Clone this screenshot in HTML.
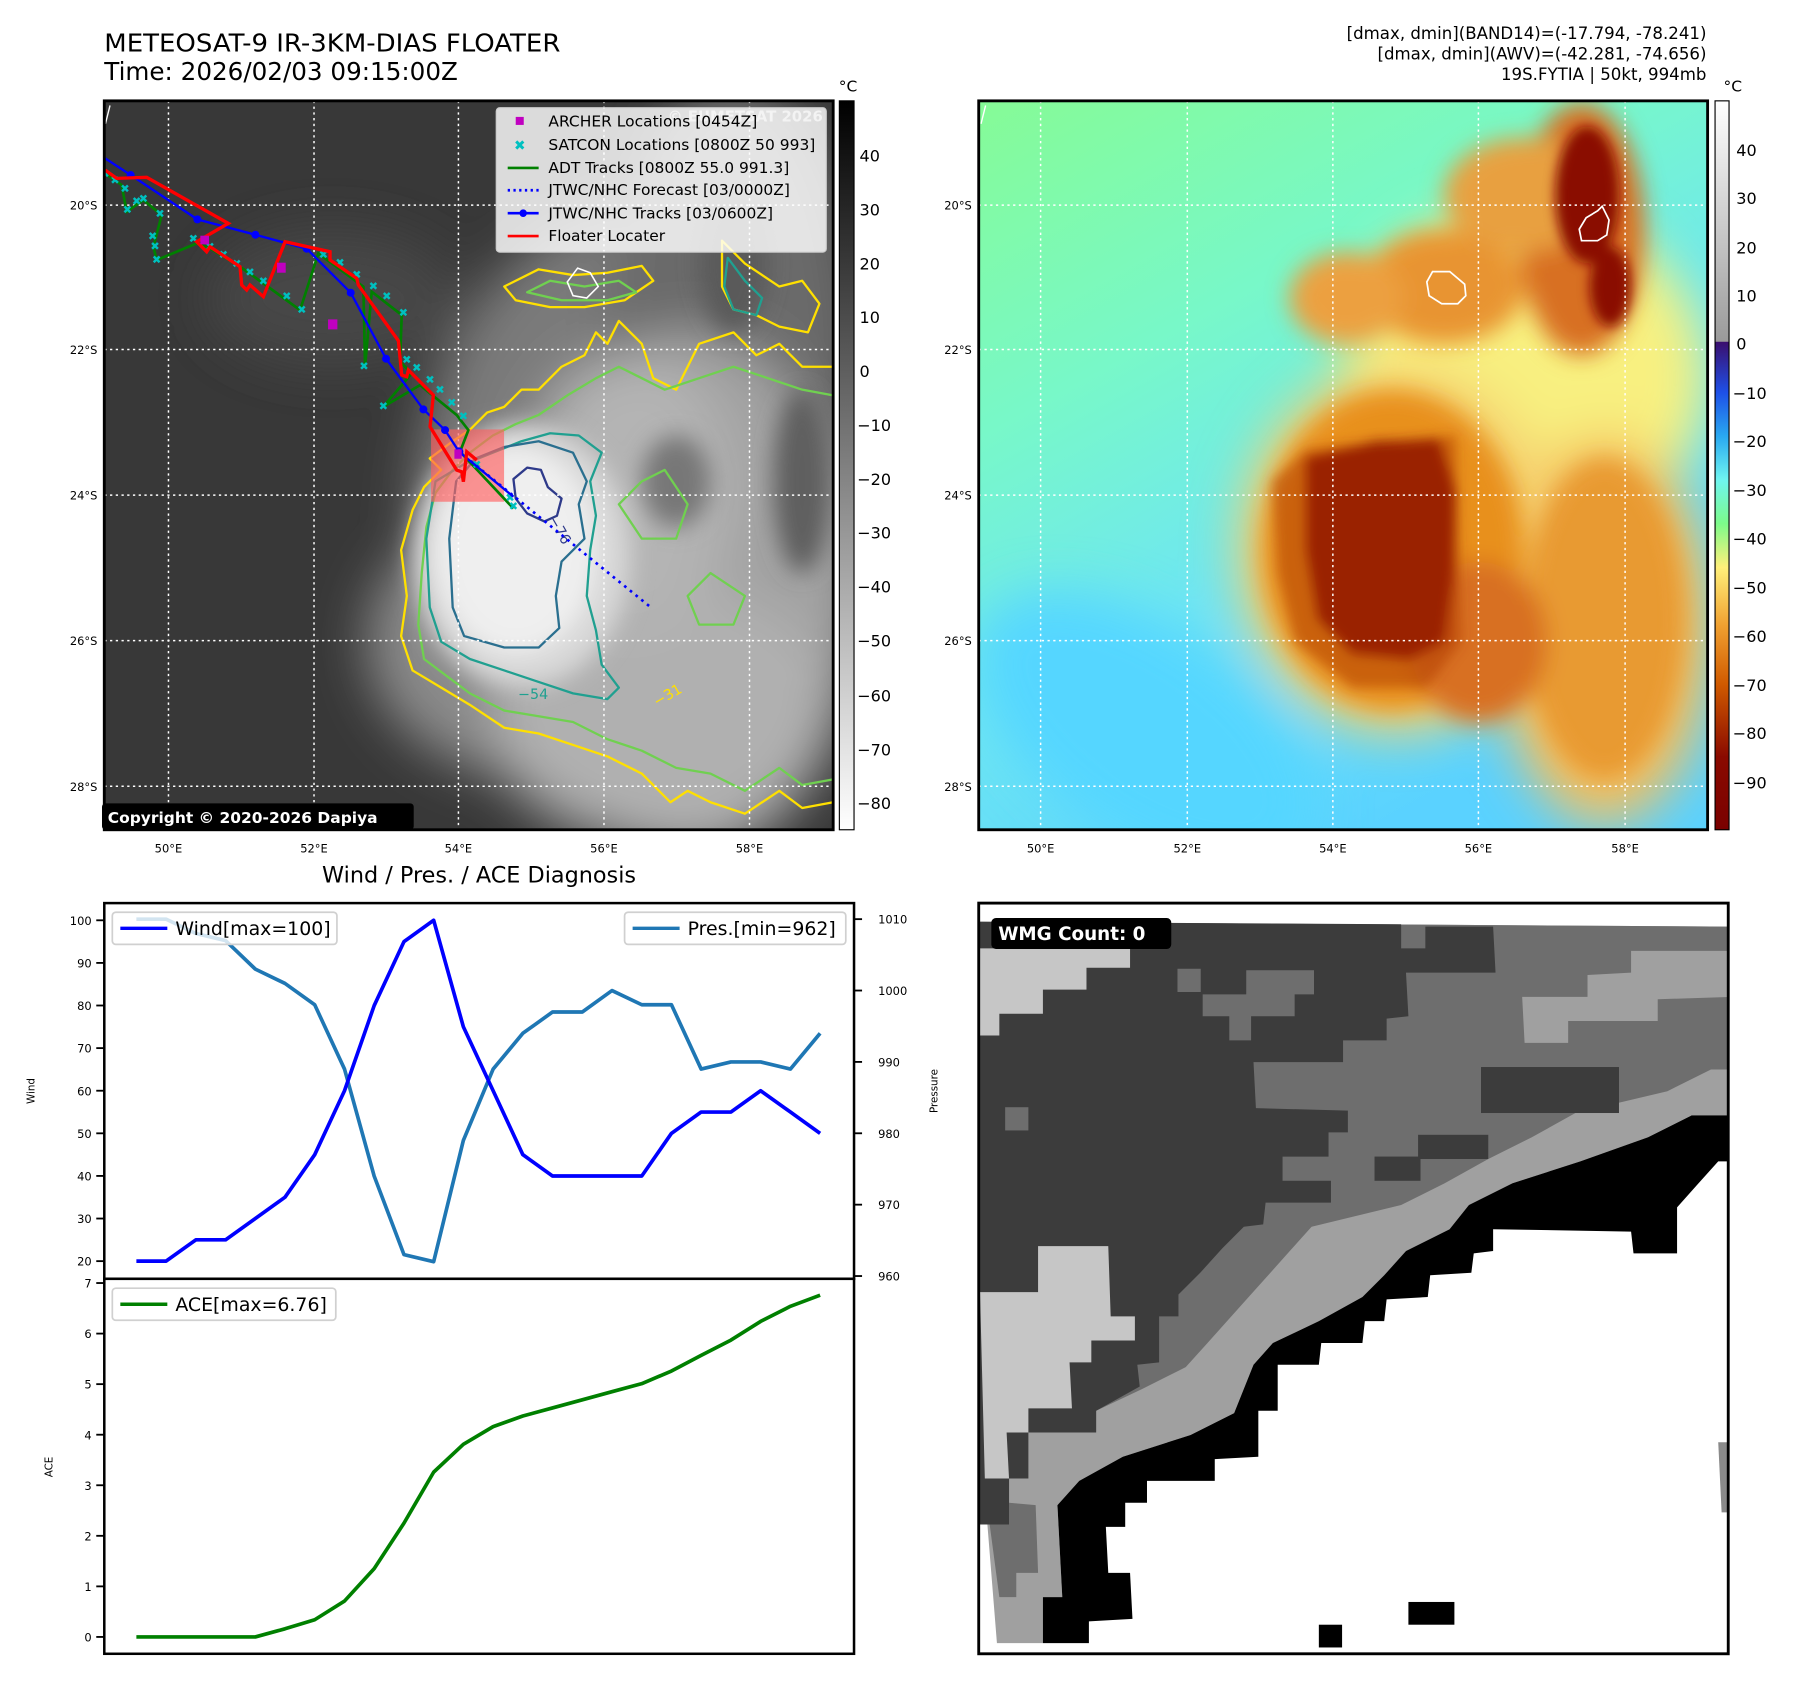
<!DOCTYPE html>
<html><head><meta charset="utf-8"><title>METEOSAT-9 floater diagnostics</title>
<style>
html,body{margin:0;padding:0;background:#fff;}
svg{display:block;font-family:"DejaVu Sans","Liberation Sans",sans-serif;}
</style></head>
<body>
<svg id="root" width="1797" height="1690" viewBox="0 0 1568 1474.6" preserveAspectRatio="none" xmlns="http://www.w3.org/2000/svg">
<defs>
  <filter id="blur10" x="-50%" y="-50%" width="200%" height="200%"><feGaussianBlur stdDeviation="10"/></filter>
  <filter id="blur20" x="-50%" y="-50%" width="200%" height="200%"><feGaussianBlur stdDeviation="22"/></filter>
  <filter id="blur6" x="-50%" y="-50%" width="200%" height="200%"><feGaussianBlur stdDeviation="5"/></filter>
  <clipPath id="clipL"><rect x="91" y="88" width="636" height="636"/></clipPath>
  <clipPath id="clipR"><rect x="854" y="88" width="636" height="636"/></clipPath>
  <clipPath id="clipW"><rect x="854" y="788" width="654" height="655"/></clipPath>
  <linearGradient id="cbL" x1="0" y1="0" x2="0" y2="1">
    <stop offset="0" stop-color="#000"/><stop offset="1" stop-color="#fff"/>
  </linearGradient>
  <linearGradient id="cbR" x1="0" y1="0" x2="0" y2="1">
    <stop offset="0" stop-color="#fff"/><stop offset="0.33" stop-color="#9a9a9a"/>
    <stop offset="0.331" stop-color="#3a0f6e"/><stop offset="0.4" stop-color="#1e50e8"/>
    <stop offset="0.46" stop-color="#29a8f0"/><stop offset="0.52" stop-color="#6ff5f0"/>
    <stop offset="0.58" stop-color="#7cfb8a"/><stop offset="0.64" stop-color="#fff07a"/>
    <stop offset="0.72" stop-color="#f0a030"/><stop offset="0.8" stop-color="#d05a00"/>
    <stop offset="0.9" stop-color="#8a0a00"/><stop offset="1" stop-color="#7a0000"/>
  </linearGradient>
  <linearGradient id="bgR" x1="0" y1="0" x2="0.55" y2="1">
    <stop offset="0" stop-color="#86fb96"/><stop offset="0.35" stop-color="#78f8c8"/>
    <stop offset="0.65" stop-color="#6ee6f2"/><stop offset="1" stop-color="#5ad2ff"/>
  </linearGradient>
</defs>

<!-- Titles -->
<text x="91" y="45" font-size="21.5" fill="#000" textLength="398" lengthAdjust="spacingAndGlyphs">METEOSAT-9 IR-3KM-DIAS FLOATER</text>
<text x="91" y="70" font-size="21.5" fill="#000">Time: 2026/02/03 09:15:00Z</text>
<g font-size="14.5" fill="#000" text-anchor="end">
  <text x="1489" y="34">[dmax, dmin](BAND14)=(-17.794, -78.241)</text>
  <text x="1489" y="52">[dmax, dmin](AWV)=(-42.281, -74.656)</text>
  <text x="1489" y="70">19S.FYTIA | 50kt, 994mb</text>
</g>

<!-- LEFT IR MAP -->
<g>
 <g clip-path="url(#clipL)">
  <rect x="91" y="88" width="636" height="636" fill="#383838"/>
  <g filter="url(#blur20)">
    <ellipse cx="560" cy="460" rx="200" ry="280" fill="#7a7a7a"/>
    <ellipse cx="640" cy="300" rx="110" ry="230" fill="#6a6a6a"/>
    <ellipse cx="470" cy="560" rx="150" ry="120" fill="#8a8a8a"/>
    <ellipse cx="600" cy="520" rx="150" ry="230" fill="#a2a2a2"/>
    <ellipse cx="580" cy="620" rx="150" ry="110" fill="#b0b0b0"/>
    <ellipse cx="550" cy="430" rx="90" ry="120" fill="#b4b4b4"/>
    <ellipse cx="290" cy="260" rx="110" ry="60" fill="#474747"/>
  </g>
  <g filter="url(#blur10)">
    <ellipse cx="455" cy="485" rx="95" ry="115" fill="#d8d8d8"/>
    <ellipse cx="450" cy="480" rx="70" ry="90" fill="#efefef"/>
    <ellipse cx="640" cy="230" rx="30" ry="60" fill="#5a5a5a"/>
    <ellipse cx="590" cy="420" rx="30" ry="40" fill="#777"/>
    <ellipse cx="700" cy="420" rx="25" ry="80" fill="#5f5f5f"/>
  </g>
  <g fill="none" stroke-width="2" stroke-linejoin="round">
    <path stroke="#ffe000" d="M727,700 L700,705 L680,690 L650,710 L620,700 L600,690 L585,700 L560,675 L530,660 L500,650 L470,640 L440,635 L410,615 L385,600 L360,585 L350,555 L355,520 L350,480 L360,445 L370,425 L385,410 L375,400 L395,385 L410,375 L425,360 L440,355 L455,340 L470,340 L490,320 L510,310 L520,290 L530,300 L540,280 L560,300 L570,330 L590,340 L600,320 L610,300 L640,290 L660,310 L680,300 L700,320 L727,320"/>
    <path stroke="#ffe000" d="M440,250 L470,235 L500,240 L530,238 L560,232 L570,245 L545,262 L510,268 L480,268 L450,262 Z"/>
    <path stroke="#ffe000" d="M630,210 L650,230 L680,250 L700,245 L715,265 L705,290 L680,285 L660,275 L640,270 L630,250 Z"/>
    <path stroke="#70d050" d="M727,680 L700,685 L680,670 L650,690 L620,675 L590,670 L560,655 L530,645 L500,630 L470,625 L440,620 L410,605 L390,590 L370,575 L365,545 L368,500 L372,460 L380,430 L395,410 L410,395 L430,380 L450,370 L470,362 L495,345 L520,330 L540,320 L560,330 L580,340 L610,330 L640,320 L670,330 L700,340 L727,345"/>
    <path stroke="#70d050" d="M540,440 L560,420 L580,410 L600,440 L590,470 L560,470 Z"/>
    <path stroke="#70d050" d="M600,520 L620,500 L650,520 L640,545 L610,545 Z"/>
    <path stroke="#70d050" d="M460,255 L480,245 L510,250 L540,245 L555,255 L530,262 L490,262 Z"/>
    <path stroke="#20a090" d="M380,420 L372,470 L375,530 L385,560 L410,575 L440,585 L470,595 L500,605 L530,610 L540,600 L525,580 L520,550 L512,520 L515,480 L520,450 L515,420 L525,395 L505,380 L480,378 L455,385 L430,395 L405,405 Z"/>
    <path stroke="#20a090" d="M635,225 L650,245 L665,260 L660,275 L640,270 L632,250 Z"/>
    <path stroke="#2a6f8f" d="M398,420 L392,470 L395,530 L405,555 L440,565 L470,565 L488,548 L485,520 L490,490 L510,470 L505,440 L512,420 L500,395 L470,385 L440,390 L415,400 Z"/>
    <path stroke="#2e3a8a" d="M448,418 L460,408 L472,410 L478,425 L490,435 L486,450 L475,455 L460,448 L450,435 Z"/>
  </g>
  <g font-size="12.5" fill="#20a090">
    <text x="452" y="610">−54</text>
    <text x="480" y="460" fill="#2e3a8a" transform="rotate(60 485 455)">−76</text>
    <text x="570" y="615" fill="#ffe000" transform="rotate(-30 575 610)">−31</text>
  </g>
  <path d="M504,234 L515,238 L522,250 L512,260 L500,258 L495,246 Z" fill="none" stroke="#fff" stroke-width="1.4"/>
  <path d="M96,92 L92,108" stroke="#fff" stroke-width="1.2"/>
  <g stroke="#fff" stroke-width="1.3" stroke-dasharray="2,3">
    <line x1="147" y1="88" x2="147" y2="724"/><line x1="274" y1="88" x2="274" y2="724"/><line x1="400" y1="88" x2="400" y2="724"/><line x1="527" y1="88" x2="527" y2="724"/><line x1="654" y1="88" x2="654" y2="724"/>
    <line x1="91" y1="179" x2="727" y2="179"/><line x1="91" y1="305" x2="727" y2="305"/><line x1="91" y1="432" x2="727" y2="432"/><line x1="91" y1="559" x2="727" y2="559"/><line x1="91" y1="686" x2="727" y2="686"/>
  </g>
  <g transform="translate(87.26,130.9) scale(0.2909)">
    <rect x="993" y="838" width="219" height="217" fill="#ff6060" opacity="0.65"/>
    <polyline fill="none" stroke="#008000" stroke-width="8" points="15,70 65,105 80,185 130,150 185,195 160,290 170,330 290,280 330,295 420,350 490,400 600,480 655,310 790,410 795,650 815,425 905,495 900,635 935,670 850,770 960,705 1070,795 1105,840 1080,905 1240,1075"/>
    <g fill="#00c0c0" font-size="34" font-weight="bold" text-anchor="middle">
      <text x="15" y="82">✖</text><text x="45" y="102">✖</text><text x="75" y="128">✖</text><text x="82" y="190">✖</text><text x="110" y="165">✖</text><text x="130" y="158">✖</text><text x="180" y="202">✖</text><text x="158" y="270">✖</text><text x="165" y="300">✖</text><text x="170" y="340">✖</text><text x="280" y="278">✖</text><text x="330" y="302">✖</text><text x="370" y="325">✖</text><text x="410" y="352">✖</text><text x="450" y="378">✖</text><text x="490" y="405">✖</text><text x="560" y="450">✖</text><text x="605" y="490">✖</text><text x="670" y="325">✖</text><text x="720" y="350">✖</text><text x="770" y="385">✖</text><text x="820" y="420">✖</text><text x="860" y="450">✖</text><text x="910" y="500">✖</text><text x="792" y="660">✖</text><text x="920" y="640">✖</text><text x="950" y="665">✖</text><text x="850" y="780">✖</text><text x="990" y="700">✖</text><text x="1020" y="730">✖</text><text x="1055" y="770">✖</text><text x="1090" y="810">✖</text><text x="1130" y="955">✖</text><text x="1230" y="1055">✖</text><text x="1240" y="1080">✖</text>
    </g>
    <polyline fill="none" stroke="#0000ff" stroke-width="7" points="0,15 92,75 292,208 466,254 620,296 752,428 858,626 970,778 1035,840 1077,905 1240,1040"/>
    <g fill="#0000ff">
      <circle cx="92" cy="75" r="12"/><circle cx="292" cy="208" r="12"/><circle cx="466" cy="254" r="12"/><circle cx="620" cy="296" r="12"/><circle cx="752" cy="428" r="12"/><circle cx="858" cy="626" r="12"/><circle cx="970" cy="778" r="12"/><circle cx="1035" cy="840" r="12"/>
      <circle cx="1077" cy="905" r="10" fill="#fff" stroke="#0000ff" stroke-width="6"/>
    </g>
    <line x1="1077" y1="905" x2="1650" y2="1370" stroke="#0000ff" stroke-width="8" stroke-dasharray="8,14"/>
    <polyline fill="none" stroke="#ff0000" stroke-width="10" points="15,60 50,85 140,82 385,220 290,275 320,305 330,290 420,350 425,405 440,420 450,405 490,440 555,275 690,305 690,330 770,385 775,405 895,572 905,675 920,680 925,660 1000,735 990,830 1070,960 1085,965 1090,995 1100,905 1130,930"/>
    <g fill="#c000c0">
      <rect x="301" y="257" width="26" height="26"/><rect x="531" y="338" width="26" height="30"/><rect x="684" y="508" width="28" height="30"/><rect x="1063" y="898" width="22" height="28"/>
    </g>
  </g>
  <text x="718" y="106" font-size="13" font-weight="bold" fill="#d8d8d8" text-anchor="end" opacity="0.8">© EUMETSAT 2026</text>
 </g>
 <rect x="91" y="88" width="636" height="636" fill="none" stroke="#000" stroke-width="2.5"/>
 <g>
  <rect x="433" y="94" width="288" height="126" rx="3" fill="#ffffff" fill-opacity="0.82" stroke="#ccc" stroke-width="1"/>
  <rect x="450" y="102" width="7" height="7" fill="#c000c0"/>
  <text x="453.5" y="131" font-size="12" font-weight="bold" fill="#00c0c0" text-anchor="middle">✖</text>
  <line x1="443" y1="146.5" x2="470" y2="146.5" stroke="#008000" stroke-width="2.3"/>
  <line x1="443" y1="166" x2="470" y2="166" stroke="#0000ff" stroke-width="2.3" stroke-dasharray="2,3"/>
  <line x1="443" y1="186" x2="470" y2="186" stroke="#0000ff" stroke-width="2.3"/><circle cx="456.5" cy="186" r="3.3" fill="#0000ff"/>
  <line x1="443" y1="206" x2="470" y2="206" stroke="#ff0000" stroke-width="2.3"/>
  <g font-size="13.5" fill="#000">
   <text x="478.5" y="110.5">ARCHER Locations [0454Z]</text>
   <text x="478.5" y="130.8">SATCON Locations [0800Z 50 993]</text>
   <text x="478.5" y="151">ADT Tracks [0800Z 55.0 991.3]</text>
   <text x="478.5" y="170.3">JTWC/NHC Forecast [03/0000Z]</text>
   <text x="478.5" y="190.6">JTWC/NHC Tracks [03/0600Z]</text>
   <text x="478.5" y="210.3">Floater Locater</text>
  </g>
 </g>
 <g>
  <rect x="89" y="701" width="272" height="23" rx="3" fill="#000"/>
  <text x="94" y="718" font-size="13.5" font-weight="bold" fill="#fff">Copyright © 2020-2026 Dapiya</text>
 </g>
</g>

<g>
 <rect x="732.4" y="88" width="12.8" height="636" fill="url(#cbL)" stroke="#000" stroke-width="1"/>
 <text x="740" y="80" font-size="13.5" text-anchor="middle">°C</text>
 <g font-size="14" fill="#000">
  <text x="750" y="141">40</text><text x="750" y="188">30</text><text x="750" y="235">20</text><text x="750" y="282">10</text><text x="750" y="329">0</text>
  <text x="748" y="376">−10</text><text x="748" y="423">−20</text><text x="748" y="470">−30</text><text x="748" y="517">−40</text><text x="748" y="564">−50</text><text x="748" y="612">−60</text><text x="748" y="659">−70</text><text x="748" y="706">−80</text>
 </g>
</g>

<g>
 <g clip-path="url(#clipR)">
  <rect x="854" y="88" width="636" height="636" fill="url(#bgR)"/>
  <g filter="url(#blur20)">
    <ellipse cx="1000" cy="640" rx="170" ry="90" fill="#55d6ff" transform="rotate(35 1000 640)"/>
    <ellipse cx="1330" cy="330" rx="160" ry="150" fill="#f8f080"/>
    <ellipse cx="1400" cy="550" rx="95" ry="170" fill="#f4c060"/>
    <ellipse cx="1220" cy="480" rx="140" ry="160" fill="#f5d070"/>
  </g>
  <g filter="url(#blur10)">
    <ellipse cx="1215" cy="480" rx="115" ry="140" fill="#e8901e"/>
    <ellipse cx="1400" cy="540" rx="70" ry="140" fill="#e89a30"/>
    <ellipse cx="1290" cy="560" rx="60" ry="70" fill="#d87020"/>
    <ellipse cx="1260" cy="250" rx="70" ry="50" fill="#e89430"/>
    <ellipse cx="1380" cy="200" rx="55" ry="110" fill="#d87020"/>
    <ellipse cx="1330" cy="170" rx="70" ry="50" fill="#e8a040"/>
    <ellipse cx="1175" cy="260" rx="50" ry="40" fill="#eca040"/>
  </g>
  <g filter="url(#blur6)">
    <path d="M1140,400 L1200,385 L1255,383 L1270,430 L1268,500 L1260,560 L1230,575 L1180,570 L1150,540 L1140,480 Z" fill="#7e0000"/>
    <path d="M1110,420 L1140,392 L1270,380 L1275,560 L1245,600 L1180,600 L1130,560 L1115,500 Z" fill="#b03a00" opacity="0.55"/>
    <ellipse cx="1385" cy="170" rx="28" ry="60" fill="#8a0a00"/>
    <ellipse cx="1405" cy="250" rx="18" ry="35" fill="#8a0a00"/>
  </g>
  <path d="M1250,237 L1265,237 L1278,248 L1279,258 L1272,265 L1258,265 L1247,258 L1245,246 Z" fill="none" stroke="#fff" stroke-width="1.5"/>
  <path d="M1394,184 L1398,180 L1404,192 L1402,205 L1394,210 L1380,210 L1378,200 L1384,190 Z" fill="none" stroke="#fff" stroke-width="1.5"/>
  <path d="M860,92 L856,108" stroke="#fff" stroke-width="1.2"/>
  <g stroke="#fff" stroke-width="1.3" stroke-dasharray="2,3">
    <line x1="908" y1="88" x2="908" y2="724"/><line x1="1036" y1="88" x2="1036" y2="724"/><line x1="1163" y1="88" x2="1163" y2="724"/><line x1="1290" y1="88" x2="1290" y2="724"/><line x1="1418" y1="88" x2="1418" y2="724"/>
    <line x1="854" y1="179" x2="1490" y2="179"/><line x1="854" y1="305" x2="1490" y2="305"/><line x1="854" y1="432" x2="1490" y2="432"/><line x1="854" y1="559" x2="1490" y2="559"/><line x1="854" y1="686" x2="1490" y2="686"/>
  </g>
 </g>
 <rect x="854" y="88" width="636" height="636" fill="none" stroke="#000" stroke-width="2.5"/>
</g>
<g>
 <rect x="1496.5" y="88" width="12.2" height="636" fill="url(#cbR)" stroke="#000" stroke-width="1"/>
 <text x="1512" y="80" font-size="13.5" text-anchor="middle">°C</text>
 <g font-size="14" fill="#000">
  <text x="1515" y="136">40</text><text x="1515" y="178">30</text><text x="1515" y="221">20</text><text x="1515" y="263">10</text><text x="1515" y="305">0</text>
  <text x="1512" y="348">−10</text><text x="1512" y="390">−20</text><text x="1512" y="433">−30</text><text x="1512" y="475">−40</text><text x="1512" y="518">−50</text><text x="1512" y="560">−60</text><text x="1512" y="603">−70</text><text x="1512" y="645">−80</text><text x="1512" y="688">−90</text>
 </g>
</g>

<g font-size="10" fill="#000">
 <g text-anchor="end"><text x="85" y="183">20°S</text><text x="85" y="309">22°S</text><text x="85" y="436">24°S</text><text x="85" y="563">26°S</text><text x="85" y="690">28°S</text>
 <text x="848" y="183">20°S</text><text x="848" y="309">22°S</text><text x="848" y="436">24°S</text><text x="848" y="563">26°S</text><text x="848" y="690">28°S</text></g>
 <g text-anchor="middle"><text x="147" y="744">50°E</text><text x="274" y="744">52°E</text><text x="400" y="744">54°E</text><text x="527" y="744">56°E</text><text x="654" y="744">58°E</text>
 <text x="908" y="744">50°E</text><text x="1036" y="744">52°E</text><text x="1163" y="744">54°E</text><text x="1290" y="744">56°E</text><text x="1418" y="744">58°E</text></g>
</g>

<g>
 <g clip-path="url(#clipW)">
  <rect x="854" y="788" width="654" height="655" fill="#fff"/>
  <g transform="translate(855.1,785.3) scale(0.4224)">
   <polygon fill="#a0a0a0" points="0,45 1555,55 1555,445 1470,445 1380,490 1240,540 1100,585 1010,630 970,680 880,725 835,775 790,820 700,870 605,915 565,960 525,1060 435,1105 295,1150 205,1200 160,1250 170,1440 130,1440 130,1535 35,1535 0,1100"/>
   <polygon fill="#6e6e6e" points="0,45 1555,55 1555,350 1510,350 1420,395 1230,440 1140,490 1050,535 960,585 870,630 685,675 640,725 600,770 555,820 470,915 425,965 335,1010 240,1055 100,1100 0,1100"/>
   <polygon fill="#a0a0a0" points="1120,200 1255,200 1255,155 1345,150 1345,105 1555,105 1555,200 1400,205 1400,250 1215,250 1215,295 1125,295"/>
   <polygon fill="#3c3c3c" points="0,45 870,50 870,100 920,100 920,55 1060,55 1065,150 880,150 885,240 840,245 840,290 750,290 750,335 565,335 570,430 760,435 760,480 720,480 720,530 625,530 625,580 725,580 725,625 590,625 585,670 545,675 500,720 455,770 410,815 410,860 370,860 370,955 325,960 330,1005 240,1055 240,1100 100,1100 100,1195 60,1195 60,1290 20,1290 0,1290"/>
   <rect x="1035" y="345" width="285" height="95" fill="#3c3c3c"/>
   <rect x="905" y="485" width="145" height="50" fill="#3c3c3c"/>
   <rect x="815" y="530" width="95" height="50" fill="#3c3c3c"/>
   <rect x="52" y="428" width="48" height="48" fill="#6e6e6e"/>
   <rect x="408" y="142" width="48" height="48" fill="#6e6e6e"/>
   <polygon fill="#6e6e6e" points="460,195 550,195 550,145 690,145 690,195 650,195 650,240 560,240 560,290 515,290 515,240 460,240"/>
   <polygon fill="#c6c6c6" points="0,100 310,100 310,140 220,140 220,185 130,185 130,235 40,235 40,280 0,280"/>
   <polygon fill="#c6c6c6" points="120,715 265,715 270,860 320,860 320,910 230,910 230,955 185,955 190,1050 100,1050 100,1100 55,1100 60,1195 10,1195 0,810 120,810"/>
   <polygon fill="#6e6e6e" points="10,1195 60,1195 60,1290 20,1290 40,1440 75,1440 75,1390 120,1390 115,1250 60,1245 60,1195"/>
   <polygon fill="#3c3c3c" points="10,1195 60,1195 60,1290 20,1290"/>
   <polygon fill="#000" points="1555,445 1470,445 1380,490 1240,540 1100,585 1010,630 970,680 880,725 835,775 790,820 700,870 605,915 565,960 525,1060 435,1105 295,1150 205,1200 160,1250 170,1440 130,1440 130,1535 225,1535 225,1490 315,1485 310,1390 265,1390 260,1295 300,1295 300,1245 345,1245 345,1200 485,1200 485,1155 575,1150 575,1055 615,1055 615,960 700,960 705,915 790,915 795,870 835,870 840,825 925,820 930,775 1015,770 1020,730 1060,725 1060,680 1345,685 1350,730 1440,730 1440,635 1480,590 1525,540 1555,540"/>
   <rect x="885" y="1450" width="95" height="47" fill="#000"/>
   <rect x="700" y="1497" width="48" height="47" fill="#000"/>
   <polygon fill="#8a8a8a" points="1525,1120 1555,1120 1555,1265 1532,1265"/>
  </g>
 </g>
 <rect x="854" y="788" width="654" height="655" fill="none" stroke="#000" stroke-width="2.5"/>
 <rect x="865" y="801" width="157" height="27" rx="4" fill="#000"/>
 <text x="871" y="820" font-size="16" font-weight="bold" fill="#fff">WMG Count: 0</text>
</g>

<text x="418" y="770" font-size="19.5" text-anchor="middle">Wind / Pres. / ACE Diagnosis</text>
<g id="charts"></g>

<script>
const windValues = [20,20,25,25,30,35,45,60,80,95,100,75,60,45,40,40,40,40,50,55,55,60,55,50];
const presValues = [1010,1010,1008,1007,1003,1001,998,989,974,963,962,979,989,994,997,997,1000,998,998,989,990,990,989,994];
const aceValues = [0,0,0,0,0,0.16,0.34,0.71,1.35,2.25,3.26,3.81,4.16,4.37,4.53,4.69,4.85,5.01,5.26,5.57,5.87,6.24,6.54,6.76];
const windTicks = [20,30,40,50,60,70,80,90,100];
const presTicks = [960,970,980,990,1000,1010];
const aceTicks = [0,1,2,3,4,5,6,7];

const NS = 'http://www.w3.org/2000/svg';
const g = document.getElementById('charts');
const L = 91, R = 745.2, T = 788, MID = 1115.8, B = 1443;
const X0 = 119, X1 = 715.6;
function xs(i){ return X0 + (X1 - X0) * i / (windValues.length - 1); }
function yWind(v){ return 1100.4 + (v - 20) * (803 - 1100.4) / 80; }
function yPres(v){ return 1113.4 + (v - 960) * (802 - 1113.4) / 50; }
function yAce(v){ return 1428.3 + v * (1119.5 - 1428.3) / 7; }
function mk(tag, attrs){ const e = document.createElementNS(NS, tag); for (const k in attrs) e.setAttribute(k, attrs[k]); g.appendChild(e); return e; }
function txt(x, y, s, size, anchor){ const t = mk('text', {x:x, y:y, 'font-size':size, 'text-anchor':anchor||'start', fill:'#000'}); t.textContent = s; return t; }

let f1 = mk('rect', {x:L, y:T, width:R-L, height:MID-T, fill:'none', stroke:'#000', 'stroke-width':2.2});


let f2 = mk('rect', {x:L, y:MID, width:R-L, height:B-MID, fill:'none', stroke:'#000', 'stroke-width':2.2});



windTicks.forEach(v => {
  const y = yWind(v);
  const tk = mk('line', {x1:L-7, y1:y, x2:L, y2:y, stroke:'#000', 'stroke-width':1.6});
  
  
  const lb = txt(L-11, y+4, String(v), 10, 'end');
  
  
});
presTicks.forEach(v => {
  const y = yPres(v);
  const tk = mk('line', {x1:R, y1:y, x2:R+7, y2:y, stroke:'#000', 'stroke-width':1.6});
  
  
  const lb = txt(R+21, y+4, String(v), 10, 'start');
  
  
});
aceTicks.forEach(v => {
  const y = yAce(v);
  const tk = mk('line', {x1:L-7, y1:y, x2:L, y2:y, stroke:'#000', 'stroke-width':1.6});
  
  
  const lb = txt(L-11, y+4, String(v), 10, 'end');
  
  
});

let yl1 = txt(0, 0, 'Wind', 9, 'middle');
yl1.setAttribute('transform', 'translate(30,952) rotate(-90)');


let yl2 = txt(0, 0, 'Pressure', 9, 'middle');
yl2.setAttribute('transform', 'translate(818,952) rotate(-90)');


let yl3 = txt(0, 0, 'ACE', 9, 'middle');
yl3.setAttribute('transform', 'translate(46,1280) rotate(-90)');



function line(vals, yf, color, name){
  const pts = vals.map((v,i) => xs(i).toFixed(1) + ',' + yf(v).toFixed(1)).join(' ');
  const p = mk('polyline', {points:pts, fill:'none', stroke:color, 'stroke-width':3.2, 'stroke-linejoin':'round'});
  
  
}
line(presValues, yPres, '#1f77b4', 'pressure-line');
line(windValues, yWind, '#0000ff', 'wind-line');
line(aceValues, yAce, '#008000', 'ace-line');

function legend(x, y, w, color, label, name){
  const box = mk('rect', {x:x, y:y, width:w, height:28, rx:3, fill:'#fff', 'fill-opacity':0.8, stroke:'#d0d0d0', 'stroke-width':1.5});
  
  
  mk('line', {x1:x+7, y1:y+14, x2:x+48, y2:y+14, stroke:color, 'stroke-width':3});
  txt(x+55, y+20, label, 16.5, 'start');
}
legend(98, 796, 196, '#0000ff', 'Wind[max=100]', 'wind-legend');
legend(545, 796, 193, '#1f77b4', 'Pres.[min=962]', 'pressure-legend');
legend(98, 1124, 195, '#008000', 'ACE[max=6.76]', 'ace-legend');
</script>
</svg>
</body></html>
